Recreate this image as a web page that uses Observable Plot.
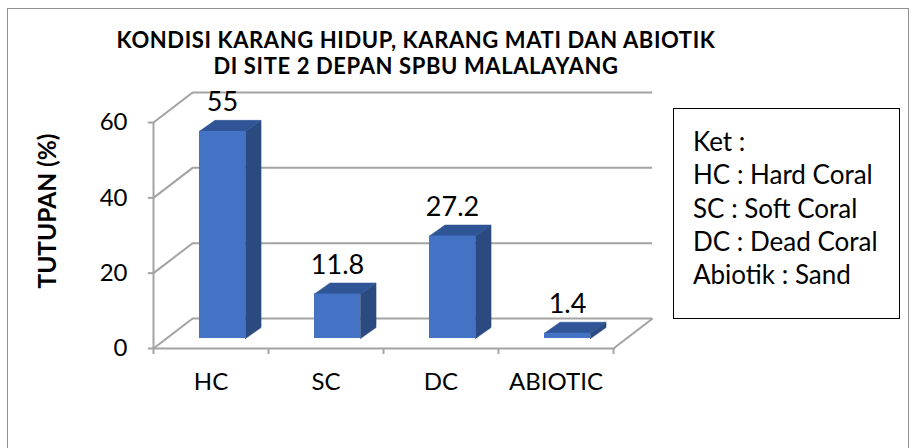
<!DOCTYPE html>
<html><head><meta charset="utf-8">
<script src="https://cdn.jsdelivr.net/npm/d3@7"></script>
<script src="https://cdn.jsdelivr.net/npm/@observablehq/plot@0.6"></script>
<style>
html,body{margin:0;padding:0;background:#fff;overflow:hidden}
#wrap{position:relative;width:917px;height:448px;overflow:hidden;font-family:Lato,"Open Sans",sans-serif;color:#000}
#frame{position:absolute;left:7px;top:8px;width:902px;height:480px;border:1.5px solid #909090;box-sizing:border-box}
#chart{position:absolute;left:0;top:0}
.tline{position:absolute;left:0;width:832px;text-align:center;font-weight:bold;font-size:22px;letter-spacing:0.6px;line-height:26.5px;height:26.5px;white-space:nowrap}
#ytitle{position:absolute;left:-53px;top:196px;width:200px;height:30px;line-height:30px;text-align:center;font-weight:bold;font-size:24.5px;transform:rotate(-90deg);white-space:nowrap}
#legend{position:absolute;left:673px;top:108px;width:227px;height:211px;border:1.5px solid #000;box-sizing:border-box;padding:16px 0 0 19px;font-size:26px;line-height:33.3px;white-space:nowrap}
</style>
</head><body>
<div id="wrap">
  <div id="frame"></div>
  <div id="chart"></div>
  <div id="title1" class="tline" style="top:27px"></div>
  <div id="title2" class="tline" style="top:53px"></div>
  <div id="ytitle"></div>
  <div id="legend"></div>
</div>
<script>
// ---- data ----
const categories = ["HC", "SC", "DC", "ABIOTIC"];
const values = [55, 11.8, 27.2, 1.4];
const valueLabels = ["55", "11.8", "27.2", "1.4"];
const yTicks = [0, 20, 40, 60];
const titleLines = ["KONDISI KARANG HIDUP, KARANG MATI DAN ABIOTIK", "DI SITE 2 DEPAN SPBU MALALAYANG"];
const yTitle = "TUTUPAN (%)";
const legendLines = ["Ket :", "HC : Hard Coral", "SC : Soft Coral", "DC : Dead Coral", "Abiotik : Sand"];

// ---- 3D look (in scale units) ----
const DX = 0.34, DY = 7.96;        // depth of back wall
const BASE = 2.65;                 // bar front-face base shift
const BDX = 0.135, BDY = 2.92;     // bar depth
const BX0 = 0.4, BW = 0.4;         // bar front face within band
const GRID = "#a3a3a3", FRONT = "#4472c4", TOP = "#2f5597", SIDE = "#2a4a80";
const n = categories.length;

const bars = categories.map((c, i) => ({
  c, label: valueLabels[i],
  x1: i + BX0, x2: i + BX0 + BW, y1: BASE, y2: values[i] + BASE
}));
const sideFaces = bars.flatMap(b => [[b.x2, b.y1], [b.x2, b.y2], [b.x2 + BDX, b.y2 + BDY], [b.x2 + BDX, b.y1 + BDY], [b.x2, b.y1]]
  .map(([x, y]) => ({c: b.c, x, y})));
const topFaces = bars.flatMap(b => [[b.x1, b.y2], [b.x2, b.y2], [b.x2 + BDX, b.y2 + BDY], [b.x1 + BDX, b.y2 + BDY], [b.x1, b.y2]]
  .map(([x, y]) => ({c: b.c, x, y})));

const chart = Plot.plot({
  width: 917, height: 448,
  marginLeft: 153, marginRight: 304, marginTop: 122, marginBottom: 100,
  x: {domain: [0, n], axis: null},
  y: {domain: [0, 60], axis: null},
  style: {fontFamily: "Lato, 'Open Sans', sans-serif", background: "transparent", overflow: "visible", color: "#000"},
  marks: [
    // back wall gridlines
    Plot.ruleY(yTicks, {y: d => d + DY, x1: () => DX, x2: () => n + DX, stroke: GRID, strokeWidth: 2}),
    // side wall diagonals
    Plot.link(yTicks, {x1: () => 0, y1: d => d, x2: () => DX, y2: d => d + DY, stroke: GRID, strokeWidth: 2}),
    // floor right edge
    Plot.link([n], {x1: d => d, y1: () => 0, x2: d => d + DX, y2: () => DY, stroke: GRID, strokeWidth: 2}),
    // floor front edge (x axis)
    Plot.ruleY([0], {x1: () => 0, x2: () => n, stroke: GRID, strokeWidth: 2}),
    // y axis line
    Plot.ruleX([0], {y1: () => 0, y2: () => 60, stroke: GRID, strokeWidth: 2}),
    // y ticks
    Plot.ruleY(yTicks, {y: d => d, x1: () => -0.045, x2: () => 0, stroke: GRID, strokeWidth: 2}),
    // x ticks
    Plot.ruleX(d3.range(n + 1), {x: d => d, y1: () => 0, y2: () => -1.6, stroke: GRID, strokeWidth: 2}),
    // y tick labels
    Plot.text(yTicks, {x: () => 0, y: d => d, text: d => String(d), dx: -26, textAnchor: "end", fontSize: 24, fill: "#000"}),
    // x labels
    Plot.text(categories, {x: (d, i) => i + 0.5, y: () => 0, text: d => d, dy: 34, fontSize: 24, fill: "#000"}),
    // bars
    Plot.line(sideFaces, {x: "x", y: "y", z: "c", fill: SIDE, stroke: SIDE, strokeWidth: 0.6, curve: "linear"}),
    Plot.line(topFaces, {x: "x", y: "y", z: "c", fill: TOP, stroke: TOP, strokeWidth: 0.6, curve: "linear"}),
    Plot.rect(bars, {x1: "x1", x2: "x2", y1: "y1", y2: "y2", fill: FRONT}),
    // value labels
    Plot.text(bars, {x: d => (d.x1 + d.x2) / 2, y: d => d.y2 + BDY, text: "label", dy: -9, lineAnchor: "bottom", fontSize: 27, fill: "#000"})
  ]
});
document.getElementById("chart").appendChild(chart);
document.getElementById("title1").textContent = titleLines[0];
document.getElementById("title2").textContent = titleLines[1];
document.getElementById("ytitle").textContent = yTitle;
document.getElementById("legend").innerHTML = legendLines.join("<br>");
</script>
</body></html>
